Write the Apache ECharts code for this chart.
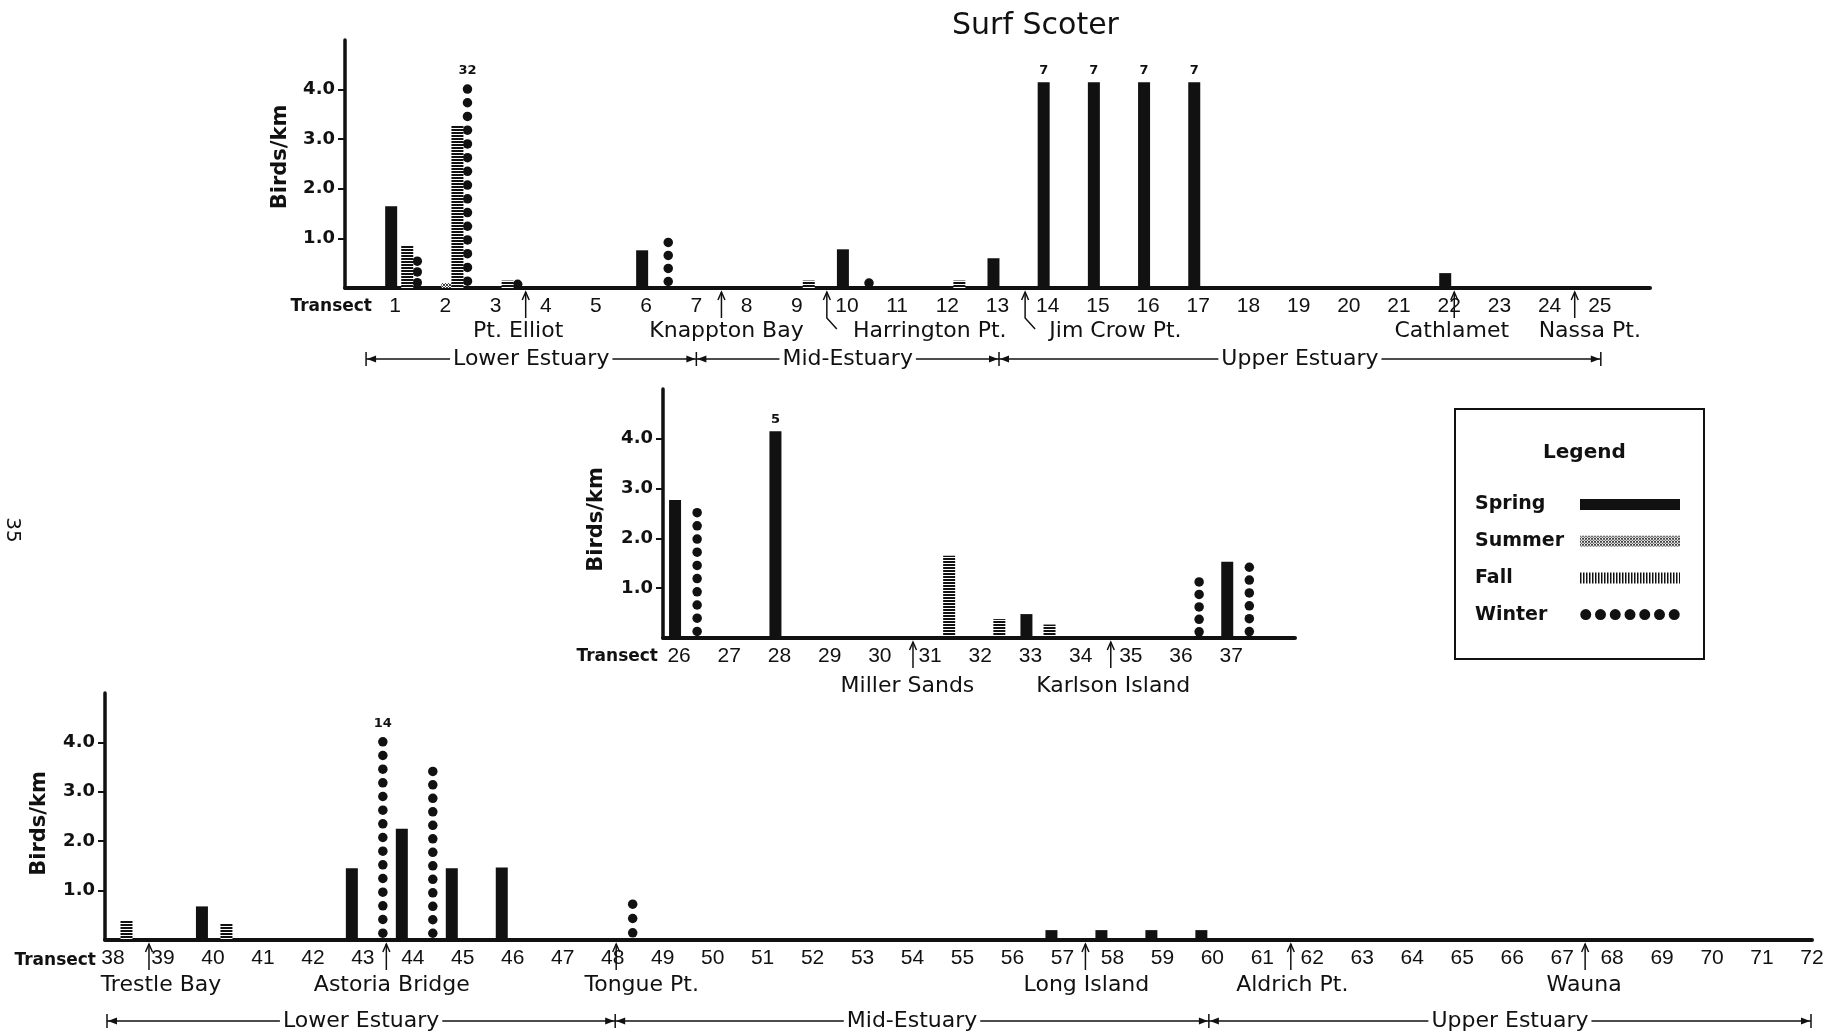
<!DOCTYPE html>
<html>
<head>
<meta charset="utf-8">
<title>Surf Scoter</title>
<script src="https://cdn.jsdelivr.net/npm/echarts@6/dist/echarts.min.js"></script>
<style>
    html, body { margin: 0; padding: 0; background: #fff; }
    #chart { width: 1833px; height: 1035px; }
</style>
</head>
<body>
<div id="chart"></div>
<script>
// ---- data (birds/km per transect and season) ----
var transects1 = [1, 2, 3, 4, 5, 6, 7, 8, 9, 10, 11, 12, 13, 14, 15, 16, 17, 18, 19, 20, 21, 22, 23, 24, 25];
var spring1 = [1.65, 0, 0, 0, 0, 0.76, 0, 0, 0, 0.78, 0, 0, 0.6, 7, 7, 7, 7, 0, 0, 0, 0, 0.3, 0, 0, 0];
var summer1 = [0, 0.1, 0, 0, 0, 0, 0, 0, 0, 0, 0, 0, 0, 0, 0, 0, 0, 0, 0, 0, 0, 0, 0, 0, 0];
var fall1 = [0.85, 3.28, 0.15, 0, 0, 0, 0, 0, 0.15, 0, 0, 0.15, 0, 0, 0, 0, 0, 0, 0, 0, 0, 0, 0, 0, 0];
var winter1 = [0.65, 32, 0.15, 0, 0, 1.05, 0, 0, 0, 0.2, 0, 0, 0, 0, 0, 0, 0, 0, 0, 0, 0, 0, 0, 0, 0];

var transects2 = [26, 27, 28, 29, 30, 31, 32, 33, 34, 35, 36, 37];
var spring2 = [2.77, 0, 5, 0, 0, 0, 0, 0.48, 0, 0, 0, 1.53];
var summer2 = [0, 0, 0, 0, 0, 0, 0, 0, 0, 0, 0, 0];
var fall2 = [0, 0, 0, 0, 0, 1.65, 0.38, 0.27, 0, 0, 0, 0];
var winter2 = [2.65, 0, 0, 0, 0, 0, 0, 0, 0, 0, 1.25, 1.55];

var transects3 = [38, 39, 40, 41, 42, 43, 44, 45, 46, 47, 48, 49, 50, 51, 52, 53, 54, 55, 56, 57, 58, 59, 60, 61, 62, 63, 64, 65, 66, 67, 68, 69, 70, 71, 72];
var spring3 = [0, 0, 0.68, 0, 0, 1.45, 2.25, 1.45, 1.47, 0, 0, 0, 0, 0, 0, 0, 0, 0, 0, 0.2, 0.2, 0.2, 0.2, 0, 0, 0, 0, 0, 0, 0, 0, 0, 0, 0, 0];
var summer3 = [0, 0, 0, 0, 0, 0, 0, 0, 0, 0, 0, 0, 0, 0, 0, 0, 0, 0, 0, 0, 0, 0, 0, 0, 0, 0, 0, 0, 0, 0, 0, 0, 0, 0, 0];
var fall3 = [0.4, 0, 0.33, 0, 0, 0, 0, 0, 0, 0, 0, 0, 0, 0, 0, 0, 0, 0, 0, 0, 0, 0, 0, 0, 0, 0, 0, 0, 0, 0, 0, 0, 0, 0, 0];
var winter3 = [0, 0, 0, 0, 0, 14, 3.55, 0, 0, 0, 0.87, 0, 0, 0, 0, 0, 0, 0, 0, 0, 0, 0, 0, 0, 0, 0, 0, 0, 0, 0, 0, 0, 0, 0, 0];

var yTicks = [1, 2, 3, 4];

// place names under the axes, with the transect their arrow points to
var places1 = ['Pt. Elliot', 'Knappton Bay', 'Harrington Pt.', 'Jim Crow Pt.', 'Cathlamet', 'Nassa Pt.'];
var placeArrow1 = [3.6, 7.5, 9.6, 13.55, 22.1, 24.5];
var placeLabel1 = [3.45, 7.6, 11.65, 15.35, 22.05, 24.8];
var places2 = ['Miller Sands', 'Karlson Island'];
var placeArrow2 = [30.66, 34.6];
var placeLabel2 = [30.55, 34.65];
var places3 = ['Trestle Bay', 'Astoria Bridge', 'Tongue Pt.', 'Long Island', 'Aldrich Pt.', 'Wauna'];
var placeArrow3 = [38.72, 43.47, 48.07, 57.46, 61.57, 67.46];
var placeLabel3 = [38.96, 43.58, 48.58, 57.48, 61.6, 67.44];

var zones = ['Lower Estuary', 'Mid-Estuary', 'Upper Estuary'];
var zoneBounds1 = [0.42, 7.0, 13.03, 25.02];
var zoneBounds3 = [37.88, 48.05, 59.93, 71.98];

// ---- styling ----
var CAP = 4.15;        // off-scale values are drawn to this height and labelled
var DOT_STEP = 0.28;   // vertical spacing of winter dots, in birds/km
var DOT_SIZE = 9.5;
// where each season's bar sits inside a transect slot, per panel
var SHIFT1 = { Spring: -0.08, Summer: 0.04, Fall: 0.24, Winter: 0.44 };
var SHIFT2 = { Spring: -0.08, Summer: 0.1, Fall: 0.38, Winter: 0.36 };
var SHIFT3 = { Spring: -0.22, Summer: 0, Fall: 0.27, Winter: 0.4 };
var INK = '#111';
var TEXT_FONT = 'DejaVu Sans';
var NUM_FONT = 'Liberation Sans';

function pattern(w, h, paint) {
    var c = document.createElement('canvas');
    c.width = w;
    c.height = h;
    var ctx = c.getContext('2d');
    ctx.fillStyle = '#fff';
    ctx.fillRect(0, 0, w, h);
    ctx.fillStyle = INK;
    paint(ctx);
    return { image: c, repeat: 'repeat' };
}
var fallFill = pattern(4, 3, function (ctx) { ctx.fillRect(0, 0, 4, 2); });
var fallKey = pattern(3, 4, function (ctx) { ctx.fillRect(0, 0, 1.5, 4); });
var summerFill = pattern(3, 3, function (ctx) {
    ctx.fillStyle = '#444';
    ctx.fillRect(0, 0, 1, 1);
    ctx.fillRect(2, 0, 1, 1);
    ctx.fillRect(1, 1, 1, 1);
    ctx.fillRect(0, 2, 1, 1);
    ctx.fillRect(2, 2, 1, 1);
});

var dotIcon = 'path://';
for (var d = 0; d < 7; d++) {
    var cx = 5.5 + d * 14.75;
    dotIcon += 'M' + (cx - 5.5) + ',5.5a5.5,5.5 0 1,0 11,0a5.5,5.5 0 1,0 -11,0';
}

function capLabel(v) {
    return {
        show: true, position: 'top', distance: 5, formatter: String(v),
        color: INK, fontFamily: TEXT_FONT, fontSize: 13, fontWeight: 'bold'
    };
}

function barData(xs, vals, shift) {
    var out = [];
    vals.forEach(function (v, i) {
        if (!v) return;
        var item = { value: [xs[i] + shift, Math.min(v, CAP)] };
        if (v > CAP) item.label = capLabel(v);
        out.push(item);
    });
    return out;
}

function dotData(xs, vals, shift) {
    var out = [];
    vals.forEach(function (v, i) {
        if (!v) return;
        var h = Math.min(v, CAP);
        var item = {
            value: [xs[i] + shift, h],
            symbolBoundingData: h,
            symbolRepeat: Math.max(1, Math.ceil(h / DOT_STEP - 0.3))
        };
        if (v > CAP) item.label = capLabel(v);
        out.push(item);
    });
    return out;
}

function panelSeries(g, shift, xs, spring, summer, fall, winter) {
    var common = { type: 'bar', xAxisIndex: g, yAxisIndex: g, barWidth: 12, barGap: '-100%' };
    return [
        Object.assign({ name: 'Spring', data: barData(xs, spring, shift.Spring), itemStyle: { color: INK } }, common),
        Object.assign({ name: 'Summer', data: barData(xs, summer, shift.Summer), itemStyle: { color: summerFill } }, common),
        Object.assign({ name: 'Fall', data: barData(xs, fall, shift.Fall), itemStyle: { color: fallFill } }, common),
        {
            name: 'Winter', type: 'pictorialBar', xAxisIndex: g, yAxisIndex: g,
            symbol: 'circle', symbolSize: [DOT_SIZE, DOT_SIZE], symbolMargin: '0!',
            itemStyle: { color: INK },
            data: dotData(xs, winter, shift.Winter)
        }
    ];
}

function xAxisFor(g, xs, min, max) {
    return {
        type: 'value', gridIndex: g, min: min, max: max,
        axisLine: { onZero: false, lineStyle: { color: INK, width: 4 } },
        axisTick: { show: false },
        splitLine: { show: false },
        axisLabel: { customValues: xs, margin: 8, color: INK, fontFamily: NUM_FONT, fontSize: 21 }
    };
}

function yAxisFor(g, gap, pad) {
    return {
        type: 'value', gridIndex: g, min: 0, max: 5, interval: 1,
        axisLine: { show: true, onZero: false, lineStyle: { color: INK, width: 3.5 } },
        axisTick: { show: true, customValues: yTicks, length: 7, lineStyle: { color: INK, width: 2 } },
        axisLabel: {
            customValues: yTicks, margin: 10, color: INK,
            fontFamily: TEXT_FONT, fontSize: 18, fontWeight: 'bold',
            formatter: function (v) { return v.toFixed(1); }
        },
        splitLine: { show: false },
        name: 'Birds/km', nameLocation: 'middle', nameRotate: 90, nameGap: gap, nameMoveOverlap: false,
        nameTextStyle: { color: INK, fontFamily: TEXT_FONT, fontSize: 21, fontWeight: 'bold', padding: pad }
    };
}

var chart = echarts.init(document.getElementById('chart'));

var option = {
    animation: false,
    backgroundColor: '#fff',
    title: [
        {
            text: 'Surf Scoter', left: 947, top: 6,
            textStyle: { color: INK, fontFamily: TEXT_FONT, fontSize: 30, fontWeight: 'normal' }
        },
        {
            text: 'Legend', left: 1538, top: 438,
            textStyle: { color: INK, fontFamily: TEXT_FONT, fontSize: 20, fontWeight: 'bold' }
        }
    ],
    legend: {
        orient: 'vertical', left: 1455, top: 409,
        padding: [86, 24, 35, 20],
        borderColor: INK, borderWidth: 2, backgroundColor: '#fff',
        align: 'right', itemWidth: 100, itemHeight: 11, itemGap: 17.7,
        selectedMode: false,
        formatter: '{a|{name}}',
        textStyle: {
            rich: {
                a: { width: 100, align: 'left', color: INK, fontFamily: TEXT_FONT, fontSize: 19, fontWeight: 'bold', lineHeight: 20 }
            }
        },
        data: [
            { name: 'Spring', icon: 'rect', itemStyle: { color: INK } },
            { name: 'Summer', icon: 'rect', itemStyle: { color: summerFill } },
            { name: 'Fall', icon: 'rect', itemStyle: { color: fallKey } },
            { name: 'Winter', icon: dotIcon, itemStyle: { color: INK } }
        ]
    },
    grid: [
        { left: 345, top: 40, width: 1305, height: 248, outerBoundsMode: 'none' },
        { left: 663, top: 389, width: 632, height: 249, outerBoundsMode: 'none' },
        { left: 105, top: 693, width: 1707, height: 247, outerBoundsMode: 'none' }
    ],
    xAxis: [
        xAxisFor(0, transects1, 0, 26),
        xAxisFor(1, transects2, 25.68, 38.27),
        xAxisFor(2, transects3, 37.84, 72)
    ],
    yAxis: [
        yAxisFor(0, 54, [0, 0, 0, 14]),
        yAxisFor(1, 56, [0, 12, 0, 0]),
        yAxisFor(2, 55, [0, 14, 0, 0])
    ],
    series: [].concat(
        panelSeries(0, SHIFT1, transects1, spring1, summer1, fall1, winter1),
        panelSeries(1, SHIFT2, transects2, spring2, summer2, fall2, winter2),
        panelSeries(2, SHIFT3, transects3, spring3, summer3, fall3, winter3)
    )
};

chart.setOption(option);

// ---- place-name arrows, estuary brackets and axis captions ----
var marks = [];
var line = { stroke: INK, lineWidth: 1.5, fill: null };

function toPx(g, x) {
    return chart.convertToPixel({ gridIndex: g }, [x, 0])[0];
}

function addPlaces(g, names, arrowAt, labelAt, tipY, footY, textY) {
    names.forEach(function (name, i) {
        var ax = toPx(g, arrowAt[i]);
        var lx = toPx(g, labelAt[i]);
        var pts = [[ax, tipY], [ax, footY]];
        if (labelAt[i] - arrowAt[i] > 1) pts.push([ax + 10, textY - 2]);
        marks.push({ type: 'polyline', shape: { points: pts }, style: line, z: 5 });
        marks.push({
            type: 'polyline',
            shape: { points: [[ax - 3.5, tipY + 8], [ax, tipY], [ax + 3.5, tipY + 8]] },
            style: line, z: 5
        });
        marks.push({
            type: 'text', x: lx, y: textY, z: 6,
            style: {
                text: name, fill: INK, fontFamily: TEXT_FONT, fontSize: 22,
                align: 'center', verticalAlign: 'middle'
            }
        });
    });
}

function addZones(g, bounds, rowY) {
    var xs = bounds.map(function (b) { return toPx(g, b); });
    for (var i = 0; i < xs.length - 1; i++) {
        var x0 = xs[i], x1 = xs[i + 1];
        marks.push({ type: 'line', shape: { x1: x0, y1: rowY, x2: x1, y2: rowY }, style: line, z: 5 });
        marks.push({
            type: 'polygon', z: 5,
            shape: { points: [[x0 + 1, rowY], [x0 + 10, rowY - 3.5], [x0 + 10, rowY + 3.5]] },
            style: { fill: INK }
        });
        marks.push({
            type: 'polygon', z: 5,
            shape: { points: [[x1 - 1, rowY], [x1 - 10, rowY - 3.5], [x1 - 10, rowY + 3.5]] },
            style: { fill: INK }
        });
        marks.push({
            type: 'text', x: (x0 + x1) / 2, y: rowY, z: 6,
            style: {
                text: zones[i], fill: INK, fontFamily: TEXT_FONT, fontSize: 22,
                align: 'center', verticalAlign: 'middle',
                backgroundColor: '#fff', padding: [0, 3]
            }
        });
    }
    xs.forEach(function (x) {
        marks.push({ type: 'line', shape: { x1: x, y1: rowY - 7, x2: x, y2: rowY + 7 }, style: line, z: 5 });
    });
}

function addCaption(x, y) {
    marks.push({
        type: 'text', x: x, y: y, z: 6,
        style: {
            text: 'Transect', fill: INK, fontFamily: TEXT_FONT, fontSize: 17, fontWeight: 'bold',
            align: 'right', verticalAlign: 'middle'
        }
    });
}

addPlaces(0, places1, placeArrow1, placeLabel1, 292, 318, 331);
addPlaces(1, places2, placeArrow2, placeLabel2, 642, 668, 686);
addPlaces(2, places3, placeArrow3, placeLabel3, 944, 970, 985);
addZones(0, zoneBounds1, 359);
addZones(2, zoneBounds3, 1021);
addCaption(372, 307);
addCaption(658, 657);
addCaption(96, 961);

// page number printed sideways at the left edge
marks.push({
    type: 'text', x: 12, y: 530, rotation: -Math.PI / 2,
    style: { text: '35', fill: INK, fontFamily: TEXT_FONT, fontSize: 20, align: 'center', verticalAlign: 'middle' }
});

chart.setOption({ graphic: marks });
</script>
</body>
</html>
